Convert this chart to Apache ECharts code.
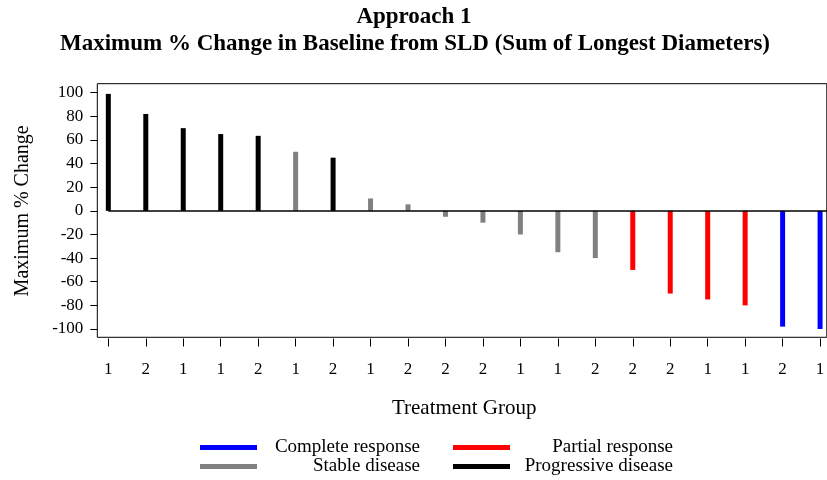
<!DOCTYPE html>
<html>
<head>
<meta charset="utf-8">
<script src="https://cdn.jsdelivr.net/npm/echarts@6/dist/echarts.min.js"></script>
<style>html,body{margin:0;padding:0;background:#fff;overflow:hidden;}#c{width:860px;height:480px;}</style>
</head>
<body>
<div id="c"></div>
<script>
const groups = ["1","2","1","1","2","1","2","1","2","2","2","1","1","2","2","2","1","1","2","1"];
const values = [99, 82, 70, 65, 63.5, 50, 45, 10.5, 5.5, -5, -10, -20, -35, -40, -50, -70, -75, -80, -98, -100];
const responses = ["PD","PD","PD","PD","PD","SD","PD","SD","SD","SD","SD","SD","SD","SD","PR","PR","PR","PR","CR","CR"];
const seriesDefs = [
  {code: "CR", name: "Complete response", color: "#0000ff"},
  {code: "PR", name: "Partial response", color: "#ff0000"},
  {code: "SD", name: "Stable disease", color: "#808080"},
  {code: "PD", name: "Progressive disease", color: "#000000"}
];
const yTicks = [100, 80, 60, 40, 20, 0, -20, -40, -60, -80, -100];

const font = "'Liberation Serif','Times New Roman',serif";
const cats = groups.map((g, i) => String(i));

const chart = echarts.init(document.getElementById('c'), null, {renderer: 'canvas'});

const series = seriesDefs.map((d, k) => ({
  type: 'bar',
  name: d.name,
  xAxisIndex: 0,
  yAxisIndex: 0,
  stack: 'all',
  barWidth: 5,
  itemStyle: {color: d.color},
  data: values.map((v, i) => responses[i] === d.code ? v : null),
  silent: true,
  markLine: k === 0 ? {
    silent: true,
    symbol: 'none',
    label: {show: false},
    lineStyle: {color: '#000', width: 1.5, type: 'solid'},
    data: [[{coord: ['0', 0]}, {coord: ['19', 0], x: 830}]]
  } : undefined
}));

const legendCommon = {
  itemWidth: 57,
  itemHeight: 5,
  itemGap: 33,
  icon: 'rect',
  formatter: '{a|{name}}',
  textStyle: {fontFamily: font, fontSize: 19, color: '#000',
    rich: {a: {fontFamily: font, fontSize: 19, color: '#000', width: 158, align: 'right'}}},
  selectedMode: false
};

const titleStyle = {fontFamily: font, fontSize: 23, fontWeight: 'bold', color: '#000'};

chart.setOption({
  animation: false,
  backgroundColor: '#fff',
  title: [
    {text: 'Approach 1', left: 414, top: 6, padding: 0, textAlign: 'center', textStyle: titleStyle},
    {text: 'Maximum % Change in Baseline from SLD (Sum of Longest Diameters)', left: 415, top: 33, padding: 0, textAlign: 'center', textStyle: titleStyle}
  ],
  legend: [
    Object.assign({}, legendCommon, {data: ['Complete response', 'Partial response'], left: 195, top: 433}),
    Object.assign({}, legendCommon, {data: ['Stable disease', 'Progressive disease'], left: 195, top: 452})
  ],
  grid: [
    {left: 89.6, width: 749.2, top: 92.7, height: 236.3, show: false},
    {left: 97.3, top: 83.7, width: 729.5, height: 253.6, show: true, borderColor: '#000', borderWidth: 1, backgroundColor: 'transparent'},
    {left: 97.3, top: 92.7, width: 729.5, height: 236.3, show: false}
  ],
  xAxis: [
    {
      gridIndex: 0, type: 'category', data: cats, boundaryGap: true,
      position: 'bottom', offset: 9.5,
      axisLine: {show: false, onZero: false},
      axisTick: {show: true, alignWithLabel: true, length: 8, lineStyle: {color: '#000', width: 1}},
      axisLabel: {formatter: (v, i) => groups[i], fontFamily: font, fontSize: 17, color: '#000', margin: 23, interval: 0},
      name: 'Treatment Group', nameLocation: 'middle', nameGap: 59,
      nameTextStyle: {fontFamily: font, fontSize: 21, color: '#000'},
      splitLine: {show: false}
    },
    {gridIndex: 1, type: 'value', show: false},
    {gridIndex: 2, type: 'value', show: false}
  ],
  yAxis: [
    {gridIndex: 0, type: 'value', min: -100, max: 100, interval: 20, show: false, splitLine: {show: false}},
    {gridIndex: 1, type: 'value', show: false},
    {
      gridIndex: 2, type: 'value', min: -100, max: 100, interval: 20,
      axisLine: {show: false},
      axisTick: {show: true, length: 7, inside: false, lineStyle: {color: '#000'}},
      axisLabel: {fontFamily: font, fontSize: 17, color: '#000', margin: 14,
        customValues: yTicks},
      splitLine: {show: false},
      name: 'Maximum % Change', nameLocation: 'middle', nameGap: 65, nameRotate: 90,
      nameTextStyle: {fontFamily: font, fontSize: 20, color: '#000'}
    }
  ],
  series: series
});
</script>
</body>
</html>
